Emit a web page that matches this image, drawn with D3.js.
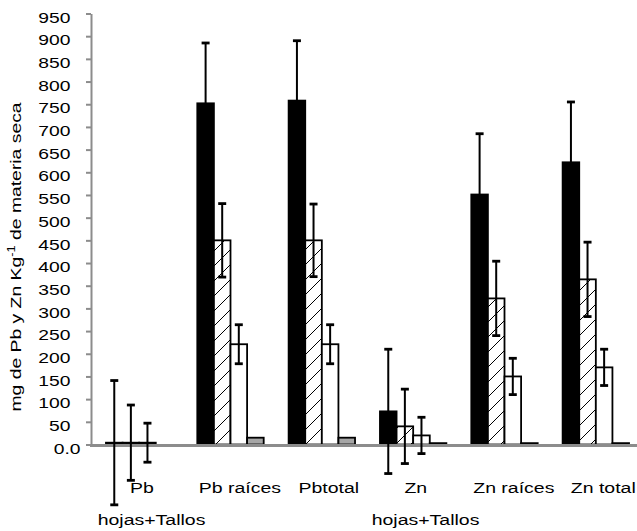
<!DOCTYPE html>
<html>
<head>
<meta charset="utf-8">
<script src="https://cdn.jsdelivr.net/npm/d3@7"></script>
<style>
  body { margin: 0; background: #fff; }
  text { font-family: "Liberation Sans", Arial, sans-serif; fill: #000; }
</style>
</head>
<body>
<div id="bar_chart"></div>
<script>
// data
var categories = ["Pb hojas+Tallos", "Pb raíces", "Pbtotal", "Zn hojas+Tallos", "Zn raíces", "Zn total"];
var catLines = [["Pb", "hojas+Tallos"], ["Pb raíces"], ["Pbtotal"], ["Zn", "hojas+Tallos"], ["Zn raíces"], ["Zn total"]];
var series = ["T1", "T2", "T3", "T4"];

var valuesT1 = [4, 752, 758, 73, 551, 622];
var valuesT2 = [4, 450, 450, 40, 322, 364];
var valuesT3 = [4, 221, 221, 20, 150, 170];
var valuesT4 = [null, 15, 15, 3, 3, 3];

var errorsT1 = [137, 133, 132, 137, 134, 133];
var errorsT2 = [83, 81, 80, 82, 82, 82];
var errorsT3 = [43, 43, 43, 40, 40, 40];
var errorsT4 = [null, null, null, null, null, null];

var yTicks = d3.range(0, 951, 50);
var yTitle = "mg de Pb y Zn Kg";

var allValues = [valuesT1, valuesT2, valuesT3, valuesT4];
var allErrors = [errorsT1, errorsT2, errorsT3, errorsT4];

// set the dimensions of the graph
var width = 637, height = 531;

var svg = d3.select("#bar_chart")
  .append("svg")
    .attr("width", width)
    .attr("height", height);

// hatch pattern for the second series
var defs = svg.append("defs");
var pat = defs.append("pattern")
    .attr("id", "hatch")
    .attr("patternUnits", "userSpaceOnUse")
    .attr("width", 15)
    .attr("height", 15);
pat.append("rect").attr("width", 15).attr("height", 15).attr("fill", "#fff");
pat.append("path")
    .attr("d", "M0,15 L15,0 M-3,3 L3,-3 M12,18 L18,12")
    .attr("stroke", "#000")
    .attr("stroke-width", 1);

var fills = ["#000", "url(#hatch)", "#fff", "#a6a6a6"];

// scales
var x = d3.scaleBand()
  .domain(categories)
  .range([93.5, 641.5]);

var groupW = 66.4;
var xs = d3.scaleBand()
  .domain(series)
  .range([0, groupW]);

var y = d3.scaleLinear()
  .domain([0, 950])
  .range([444.5, 13.5]);

// flatten for drawing
var rows = [];
series.forEach(function(s, si) {
  categories.forEach(function(c, ci) {
    rows.push({s: s, si: si, c: c, v: allValues[si][ci], e: allErrors[si][ci]});
  });
});

function barX(d) { return x(d.c) + (x.bandwidth() - groupW) / 2 + xs(d.s); }

// bars
svg.append("g")
  .selectAll("rect")
  .data(rows.filter(function(d) { return d.v != null; }))
  .enter()
  .append("rect")
    .attr("x", barX)
    .attr("y", function(d) { return y(d.v); })
    .attr("width", xs.bandwidth())
    .attr("height", function(d) { return y(0) - y(d.v); })
    .attr("fill", function(d) { return fills[d.si]; })
    .attr("stroke", "#000")
    .attr("stroke-width", 1.8);

// Y axis
var yAxis = d3.axisLeft(y)
  .tickValues(yTicks)
  .tickSize(5)
  .tickSizeOuter(0)
  .tickFormat(function(d) { return d === 0 ? "0.0" : d; });

var gy = svg.append("g")
    .attr("transform", "translate(91,0)")
    .call(yAxis);
gy.select(".domain").attr("stroke", "#8c8c8c").attr("stroke-width", 2);
gy.selectAll(".tick line").attr("stroke", "#8c8c8c").attr("stroke-width", 2);
gy.selectAll(".tick text").remove();

// tick labels, a bit wide like the original
svg.append("g")
  .selectAll("text")
  .data(yTicks)
  .enter()
  .append("text")
    .attr("transform", function(d) {
      var xr = d === 0 ? 80.5 : 70.5;
      return "translate(" + xr + "," + (y(d) + 4.5) + ") scale(1.33,1)";
    })
    .attr("text-anchor", "end")
    .attr("dominant-baseline", "central")
    .style("font-size", "14.5px")
    .text(function(d) { return d === 0 ? "0.0" : d; });

// X axis line
svg.append("line")
    .attr("x1", 90).attr("x2", 637)
    .attr("y1", y(0) + 1).attr("y2", y(0) + 1)
    .attr("stroke", "#8c8c8c")
    .attr("stroke-width", 3);

// error bars
var eb = svg.append("g")
  .selectAll("g")
  .data(rows.filter(function(d) { return d.e != null; }))
  .enter()
  .append("g")
    .attr("stroke", "#000");

function cx(d) { return barX(d) + xs.bandwidth() / 2; }

eb.append("line")
    .attr("x1", cx).attr("x2", cx)
    .attr("y1", function(d) { return y(d.v + d.e); })
    .attr("y2", function(d) { return y(d.v - d.e); })
    .attr("stroke-width", 2);
eb.append("line")
    .attr("x1", function(d) { return cx(d) - 4; })
    .attr("x2", function(d) { return cx(d) + 4; })
    .attr("y1", function(d) { return y(d.v + d.e); })
    .attr("y2", function(d) { return y(d.v + d.e); })
    .attr("stroke-width", 2.8);
eb.append("line")
    .attr("x1", function(d) { return cx(d) - 4; })
    .attr("x2", function(d) { return cx(d) + 4; })
    .attr("y1", function(d) { return y(d.v - d.e); })
    .attr("y2", function(d) { return y(d.v - d.e); })
    .attr("stroke-width", 2.8);

// category labels: laid out at nominal width, then drawn wider
var kx = 1.3;
var catG = svg.append("g");
categories.forEach(function(c, ci) {
  catLines[ci].forEach(function(line, li) {
    var t = catG.append("text")
        .style("font-size", "15px")
        .text(line);
    var w0 = t.node().getComputedTextLength();
    var cxp = x(c) + x.bandwidth() / 2;
    t.attr("transform", "translate(" + (cxp - w0 / 2) + "," + (493 + li * 32) + ") scale(" + kx + ",1)");
  });
});

// Y axis title
var yt = svg.append("text")
    .attr("transform", "translate(21,257) rotate(-90) scale(1.29,1)")
    .attr("text-anchor", "middle")
    .style("font-size", "15px");
yt.append("tspan").text(yTitle);
yt.append("tspan").attr("dy", -6).style("font-size", "10px").text("-1");
yt.append("tspan").attr("dy", 6).text(" de materia seca");
</script>
</body>
</html>
